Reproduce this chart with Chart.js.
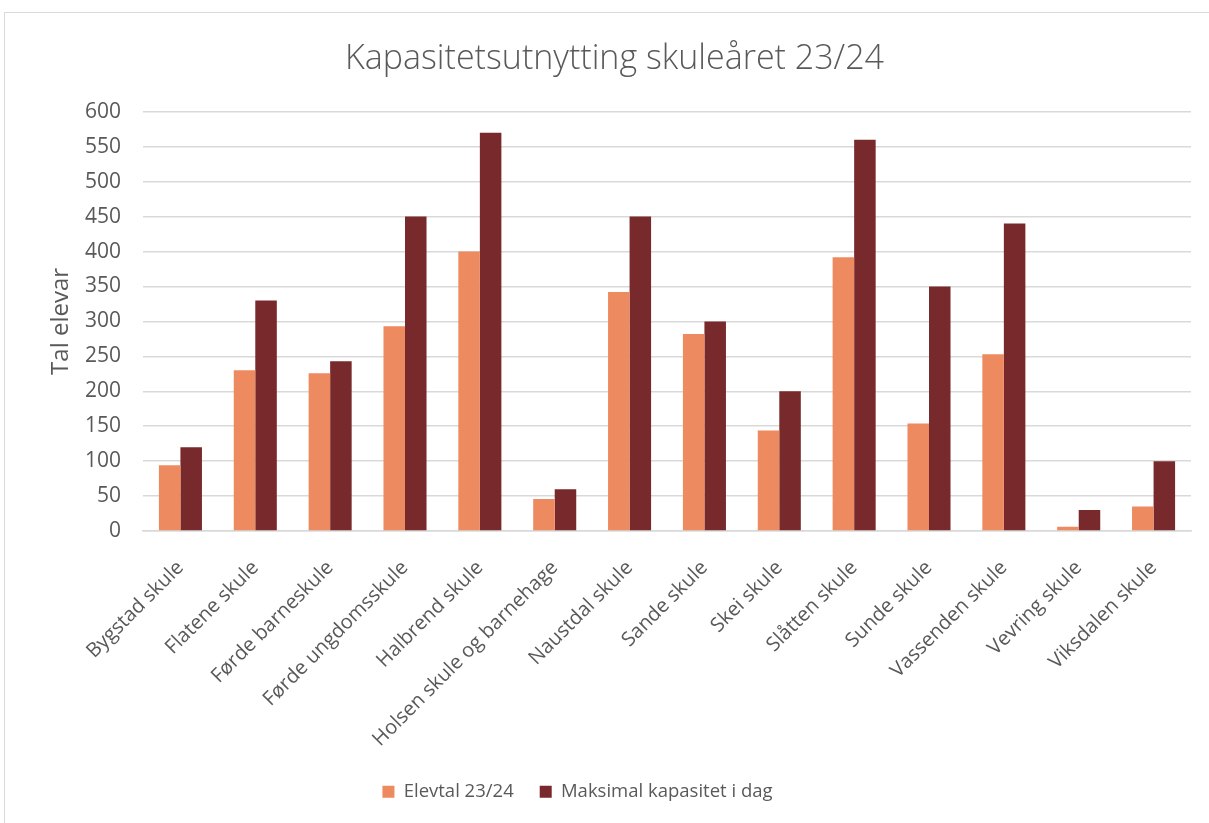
<!DOCTYPE html>
<html>
<head>
<meta charset="utf-8">
<script src="https://cdn.jsdelivr.net/npm/chart.js@4.4.1/dist/chart.umd.min.js"></script>
<style>
	html, body { margin: 0; padding: 0; background: #fff; }
	#frame { position: absolute; left: 4px; top: 12px; width: 1240px; height: 860px; border: 1px solid #d9d9d9; box-sizing: border-box; }
	#wrap { position: absolute; left: 0; top: 0; width: 1209px; height: 823px; }
</style>
</head>
<body>
<div id="frame"></div>
<div id="wrap"><canvas id="chart"></canvas></div>
<script>
const schools = [
	'Bygstad skule', 'Flatene skule', 'Førde barneskule', 'Førde ungdomsskule', 'Halbrend skule',
	'Holsen skule og barnehage', 'Naustdal skule', 'Sande skule', 'Skei skule', 'Slåtten skule',
	'Sunde skule', 'Vassenden skule', 'Vevring skule', 'Viksdalen skule'
];
const elevtal = [94, 230, 226, 293, 400, 46, 342, 282, 144, 392, 154, 253, 6, 35];
const kapasitet = [120, 330, 243, 450, 570, 60, 450, 300, 200, 560, 350, 440, 30, 100];

const FONT = "'Open Sans', sans-serif";
const TXT = '#595959';

// title and legend are not centred on the canvas in the original
const nudge = {
	id: 'nudge',
	afterLayout(chart) {
		chart.titleBlock.left += 15;
		chart.titleBlock.right += 15;
		chart.legend.left -= 22;
		chart.legend.right -= 22;
	},
};

new Chart(document.getElementById('chart'), {
	type: 'bar',
	data: {
		labels: schools,
		datasets: [
			{ label: 'Elevtal 23/24', data: elevtal, backgroundColor: '#ee8a5f', borderWidth: 0 },
			{ label: 'Maksimal kapasitet i dag', data: kapasitet, backgroundColor: '#78292c', borderWidth: 0 },
		],
	},
	plugins: [nudge],
	options: {
		responsive: true,
		maintainAspectRatio: false,
		animation: false,
		layout: { padding: { left: 8, right: 18, top: 39, bottom: 12 } },
		datasets: { bar: { categoryPercentage: 0.575, barPercentage: 1 } },
		plugins: {
			title: {
				display: true,
				text: 'Kapasitetsutnytting skuleåret 23/24',
				color: TXT,
				font: { family: FONT, size: 34, weight: 300 },
				padding: { top: 0, bottom: 32 },
			},
			legend: {
				position: 'bottom',
				labels: {
					color: TXT,
					font: { family: FONT, size: 18.5 },
					boxWidth: 12,
					boxHeight: 12,
					padding: 26,
				},
			},
			tooltip: { enabled: false },
		},
		scales: {
			x: {
				grid: { display: false },
				border: { color: '#d9d9d9', width: 1.5 },
				afterFit: (scale) => { scale.height -= 12; },
				ticks: {
					color: TXT,
					font: { family: FONT, size: 20 },
					minRotation: 45,
					maxRotation: 45,
					autoSkip: false,
					padding: 17,
				},
			},
			y: {
				min: 0,
				max: 600,
				grid: { color: '#d9d9d9', lineWidth: 1.5, drawTicks: false },
				border: { display: false },
				afterFit: (scale) => { scale.width = 135; },
				ticks: {
					stepSize: 50,
					color: TXT,
					font: { family: FONT, size: 21 },
					padding: 22,
				},
				title: {
					display: true,
					text: 'Tal elevar',
					color: TXT,
					font: { family: FONT, size: 24 },
					padding: { top: 39, bottom: 4 },
				},
			},
		},
	},
});
</script>
</body>
</html>
